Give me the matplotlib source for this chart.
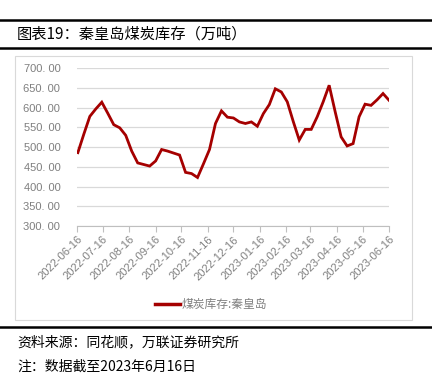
import numpy as np
import pandas as pd
import matplotlib
matplotlib.use("Agg")
import matplotlib.pyplot as plt
import matplotlib.dates as mdates
from matplotlib.lines import Line2D
from matplotlib.patches import Rectangle

plt.rcParams['font.family'] = ['Noto Sans CJK SC', 'DejaVu Sans']

# weekly coal stock at Qinhuangdao (10k tonnes)
dates = pd.date_range(end="2023-06-16", periods=53, freq="7D")
stock = [486, 533, 578, 597, 614, 586, 557, 549, 530, 490,
         460, 456, 452, 465, 494, 490, 485, 480, 436, 433,
         423, 458, 494, 560, 592, 576, 574, 564, 560, 564,
         553, 585, 608, 648, 640, 615, 565, 518, 545, 545,
         577, 615, 657, 590, 526, 503, 509, 577, 609, 606,
         620, 636, 619]
tick_dates = pd.date_range("2022-06-01", "2023-06-01", freq="MS") + pd.Timedelta(days=15)
y_ticks = [300, 350, 400, 450, 500, 550, 600, 650, 700]

title = "图表19：秦皇岛煤炭库存（万吨）"
legend_label = "煤炭库存:秦皇岛"
source = "资料来源：同花顺，万联证券研究所"
note = "注：数据截至2023年6月16日"

W, H = 432, 374
fig = plt.figure(figsize=(W / 100, H / 100), dpi=100)

def fy(px):
    return 1 - px / H

# header / footer rules
for ypx in (20, 48, 327):
    fig.add_artist(Line2D([0, 1], [fy(ypx), fy(ypx)], color="black", lw=1.8))
fig.text(17 / W, fy(34), title, fontsize=11, va="center", ha="left", color="black")
fig.text(17 / W, fy(342), source, fontsize=10, va="center", ha="left")
fig.text(17 / W, fy(367), note, fontsize=10, va="center", ha="left")

# chart frame
fig.add_artist(Rectangle((15 / W, fy(320)), (412 - 15) / W, (320 - 56) / H,
                         fill=False, edgecolor="#d9d9d9", lw=0.8))

ax = fig.add_axes([77 / W, fy(226), (389 - 77) / W, (226 - 68.3) / H])
ax.plot(dates, stock, color="#a50000", lw=2.0, solid_joinstyle="miter")

ax.set_ylim(300, 700)
ax.set_yticks(y_ticks)
ax.set_yticklabels([f"{v:.2f}".replace(".", ". ") for v in y_ticks],
                   fontsize=8, color="#7f7f7f", family=["Liberation Sans", "DejaVu Sans"])
ax.tick_params(axis="y", length=0, pad=12)
ax.grid(axis="y", color="#d9d9d9", lw=0.9)
ax.set_axisbelow(True)

ax.set_xlim(tick_dates[0], tick_dates[-1])
ax.set_xticks(tick_dates)
ax.xaxis.set_major_formatter(mdates.DateFormatter("%Y-%m-%d"))
for lab in ax.get_xticklabels():
    lab.set_rotation(45)
    lab.set_ha("right")
    lab.set_rotation_mode("anchor")
    lab.set_fontsize(8)
    lab.set_color("#7f7f7f")
    lab.set_family(["Liberation Sans", "DejaVu Sans"])
ax.tick_params(axis="x", length=4, color="#bfbfbf", direction="out", pad=2)

for s in ("top", "right", "left"):
    ax.spines[s].set_visible(False)
ax.spines["bottom"].set_color("#bfbfbf")

# legend
leg_y = fy(304)
fig.add_artist(Line2D([155 / W, 180 / W], [leg_y, leg_y], color="#a50000", lw=2.5))
fig.text(182 / W, leg_y, legend_label, fontsize=8.5, color="#7f7f7f", va="center", ha="left")

fig.savefig("out.png", dpi=100)
